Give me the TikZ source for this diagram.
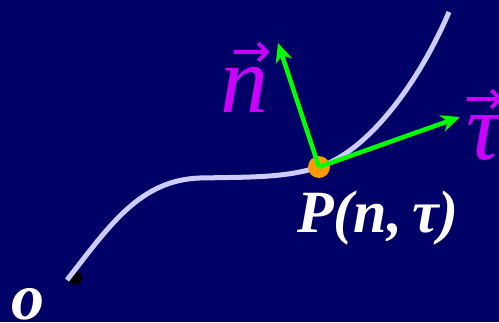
\documentclass[tikz,border=0pt]{standalone}
\usepackage{fontspec}
\setmainfont{Liberation Serif}
\newfontfamily\flechafont{DejaVu Sans}
\usetikzlibrary{arrows.meta}
\definecolor{fondo}{RGB}{0,0,102}
\definecolor{curva}{RGB}{204,204,255}
\definecolor{vecverde}{RGB}{0,255,0}
\definecolor{morado}{RGB}{204,0,255}
\definecolor{naranja}{RGB}{255,153,0}
\newcommand{\conflecha}[1]{#1\llap{\raisebox{45pt}[0pt][0pt]{\fontsize{48}{48}\selectfont\flechafont →}\kern-4pt}}
\tikzset{
  vecfl/.style={-{Stealth[length=19pt,width=17pt]}, line width=4.5pt, vecverde},
  veclab/.style={text=morado, inner sep=0pt, anchor=base, font=\fontsize{96}{96}\selectfont\itshape},
  ptlab/.style={text=white, inner sep=0pt, anchor=base, font=\fontsize{60}{60}\selectfont\bfseries\itshape},
}
\begin{document}
\begin{tikzpicture}[x=1pt, y=1pt]
  \useasboundingbox (0,0) rectangle (499,322);
  \clip (0,0) rectangle (499,322);
  \fill[fondo] (0,0) rectangle (499,322);
  % origin and curve
  \fill[black] (75,44) circle (7);
  \coordinate (a) at (67,42);
  \coordinate (b) at (200,144);
  \coordinate (p) at (319,155);
  \coordinate (e) at (449,310);
  \draw[curva, line width=5pt] (a) .. controls (110,97) and (140,142) .. (b)
    .. controls (250,145) and (285,144) .. (p)
    .. controls (370,172) and (420,242) .. (e);
  \node[fill=naranja, circle, minimum size=22pt, inner sep=0pt] (pt) at (p) {};
  % vectors
  \coordinate (ntip) at (278,279);
  \coordinate (ttip) at (460,205);
  \draw[vecfl] (p) -- (ntip);
  \draw[vecfl] (p) -- (ttip);
  \node[veclab] (nlab) at (244,209) {\conflecha{n}};
  \node[veclab] (tlab) at (484,162) {\conflecha{τ}};
  \node[ptlab] (plab) at (378,89) {P(n,\,τ)};
  \node[ptlab, font=\fontsize{66}{66}\selectfont\bfseries\itshape] (olab) at (28,2) {o};
\end{tikzpicture}
\end{document}
